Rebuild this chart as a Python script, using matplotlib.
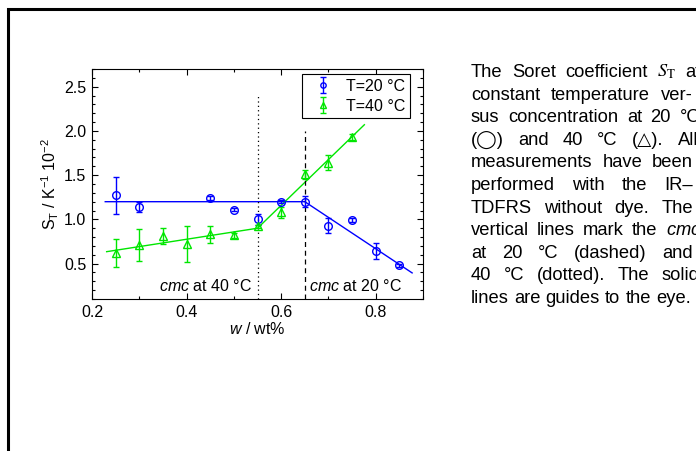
import numpy as np
import matplotlib
matplotlib.use("Agg")
import matplotlib.pyplot as plt
from matplotlib.patches import Rectangle
from matplotlib.ticker import MultipleLocator

plt.rcParams['font.family'] = ['Liberation Sans', 'DejaVu Sans']
plt.rcParams['font.size'] = 11.5
plt.rcParams['mathtext.fontset'] = 'custom'
plt.rcParams['mathtext.rm'] = 'Liberation Sans'
plt.rcParams['mathtext.it'] = 'Liberation Sans:italic'

# --- data ---
w20 = [0.25, 0.30, 0.45, 0.50, 0.55, 0.60, 0.65, 0.70, 0.75, 0.80, 0.85]
st20 = [1.27, 1.14, 1.24, 1.11, 1.00, 1.20, 1.20, 0.93, 0.99, 0.64, 0.48]
err20 = [0.21, 0.06, 0.02, 0.02, 0.06, 0.02, 0.065, 0.08, 0.02, 0.09, 0.02]

w40 = [0.25, 0.30, 0.35, 0.40, 0.45, 0.50, 0.55, 0.60, 0.65, 0.70, 0.75]
st40 = [0.62, 0.71, 0.81, 0.72, 0.83, 0.82, 0.92, 1.08, 1.51, 1.64, 1.93]
err40 = [0.16, 0.185, 0.09, 0.20, 0.10, 0.03, 0.02, 0.06, 0.05, 0.085, 0.03]

# guide lines (polyline vertices)
guide20_w = [0.228, 0.65, 0.877]
guide20_s = [1.20, 1.20, 0.395]
guide40_w = [0.231, 0.55, 0.776]
guide40_s = [0.635, 0.90, 2.07]

cmc20 = 0.65
cmc40 = 0.55
cmc20_top = 2.0
cmc40_top = 2.42

blue = '#0000ff'
green = '#00e600'

W, H = 696, 451
fig = plt.figure(figsize=(W / 100, H / 100), dpi=100)
ax = fig.add_axes([92 / W, (H - 299) / H, 331 / W, 230 / H])

ax.errorbar(w20, st20, yerr=err20, fmt='o', color=blue, mfc='none', mec=blue,
            ms=5.5, mew=1, elinewidth=1, capsize=2.5, capthick=1, label='T=20 °C', zorder=3)
ax.errorbar(w40, st40, yerr=err40, fmt='^', color=green, mfc='none', mec=green,
            ms=6, mew=1, elinewidth=1, capsize=2.5, capthick=1, label='T=40 °C', zorder=3)
ax.plot(guide20_w, guide20_s, color=blue, lw=1)
ax.plot(guide40_w, guide40_s, color=green, lw=1)

ax.plot([cmc20, cmc20], [0.1, cmc20_top], color='black', ls=(0, (4, 3)), lw=0.9)
ax.plot([cmc40, cmc40], [0.1, cmc40_top], color='black', ls=(0, (1, 2.5)), lw=0.9)

ax.text(0.539, 0.25, r'$cmc$ at 40 °C', ha='right', va='center')
ax.text(0.658, 0.25, r'$cmc$ at 20 °C', ha='left', va='center')

ax.set_xlim(0.2, 0.9)
ax.set_ylim(0.1, 2.7)
ax.xaxis.set_major_locator(MultipleLocator(0.2))
ax.xaxis.set_minor_locator(MultipleLocator(0.1))
ax.yaxis.set_major_locator(MultipleLocator(0.5))
ax.yaxis.set_minor_locator(MultipleLocator(0.1))
ax.tick_params(which='both', direction='in', top=True, right=True, width=0.8)
ax.tick_params(which='major', length=4, pad=4)
ax.tick_params(which='minor', length=2.5)
for sp in ax.spines.values():
    sp.set_linewidth(0.8)

ax.set_xlabel(r'$w$ / wt%', labelpad=1)
ax.set_ylabel(r'S$_\mathregular{T}$ / K$^\mathregular{-1}$ 10$^\mathregular{-2}$', labelpad=2)

leg = ax.legend(loc='upper right', bbox_to_anchor=(0.961, 0.978), borderaxespad=0,
                numpoints=1, handlelength=2.0, handletextpad=0.45, markerscale=0.7,
                fancybox=False, edgecolor='black', framealpha=1, borderpad=0.3,
                labelspacing=0.3)
leg.get_frame().set_linewidth(0.8)
for h in leg.legend_handles:
    try:
        h.set_linestyle('none')
    except Exception:
        pass

# outer frame (cut by the image edges on the right and bottom)
fig.patches.append(Rectangle((8 / W, -0.5), 2, (H - 9) / H + 0.5, transform=fig.transFigure,
                             fill=False, ec='black', lw=2.2, clip_on=False))

# --- caption text, justified line by line ---
caption = [
    ("The Soret coefficient $S_\\mathrm{T}$ at", 700),
    ("constant temperature ver-", 693),
    ("sus concentration at 20 °C", 700),
    ("(◯) and 40 °C (△).  All", 698),
    ("measurements have been", 693),
    ("performed with the IR–", 693),
    ("TDFRS without dye.  The", 693),
    ("vertical lines mark the $cmc$", 701),
    ("at 20 °C (dashed) and", 693),
    ("40 °C (dotted).  The solid", 699),
    ("lines are guides to the eye.", None),
]
cap_size = 13.2
x0 = 471
y_first = 77
dy = 22.6
renderer = fig.canvas.get_renderer()


def word_kw(word):
    kw = dict(fontsize=cap_size)
    if 'S_' in word:
        kw['math_fontfamily'] = 'stix'
    return kw


def measure(word):
    t = fig.text(0, 0, word, **word_kw(word))
    wd = t.get_window_extent(renderer).width
    t.remove()
    return wd


space = measure('a b') - measure('ab')
for i, (line, right) in enumerate(caption):
    words = line.split()
    widths = [measure(wd) for wd in words]
    gap = space
    if right is not None and len(words) > 1:
        gap = max(space, (right - x0 - sum(widths)) / (len(words) - 1))
    x = x0
    ypix = y_first + i * dy
    for wd, wdt in zip(words, widths):
        fig.text(x / W, 1 - ypix / H, wd, ha='left', va='baseline', **word_kw(wd))
        x += wdt + gap

fig.savefig('out.png', dpi=100)
